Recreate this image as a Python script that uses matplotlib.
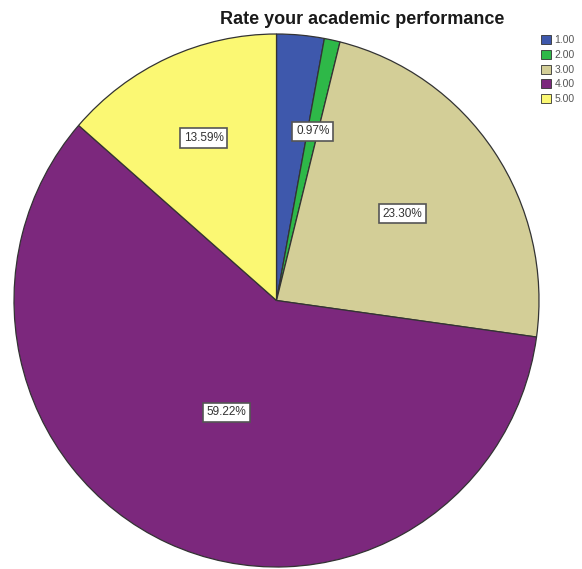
import numpy as np
import matplotlib
matplotlib.use("Agg")
from matplotlib import pyplot as plt
from matplotlib.patches import Patch

plt.rcParams['font.family'] = ['Liberation Sans', 'DejaVu Sans']

# response shares (percent), 1.00 = lowest rating
categories = ['1.00', '2.00', '3.00', '4.00', '5.00']
shares = [2.92, 0.97, 23.30, 59.22, 13.59]
colors = ['#3E58AC', '#2EB848', '#D3CE97', '#7C287D', '#FBF873']

# which slices get a percent box and how far out (fraction of radius)
show_label = [False, True, True, True, True]
label_dist = [0.6, 0.65, 0.58, 0.46, 0.67]

fig = plt.figure(figsize=(5.82, 5.69), dpi=100)
# pie is drawn a touch taller than wide
ax = fig.add_axes([14 / 582, 2 / 569, 525 / 582, 533 / 569])

wedges, _ = ax.pie(shares, colors=colors, startangle=90, counterclock=False,
                   radius=1.0, wedgeprops=dict(edgecolor='#333333', linewidth=0.9))
ax.set_xlim(-1, 1)
ax.set_ylim(-1, 1)
ax.set_aspect('auto')
ax.axis('off')

for w, val, show, d in zip(wedges, shares, show_label, label_dist):
    if not show:
        continue
    mid = np.deg2rad((w.theta1 + w.theta2) / 2)
    ax.text(d * np.cos(mid), d * np.sin(mid), f'{val:.2f}%',
            ha='center', va='center', fontsize=8.5, color='#333333',
            bbox=dict(boxstyle='square,pad=0.3', facecolor='white',
                      edgecolor='#555555', linewidth=1.2))

fig.text(362 / 582, 1 - 19 / 569, 'Rate your academic performance',
         ha='center', va='center', fontsize=13, fontweight='bold', color='#1a1a1a')

handles = [Patch(facecolor=c, edgecolor='#333333', linewidth=0.6) for c in colors]
leg = fig.legend(handles, categories, loc='upper left', bbox_to_anchor=(541 / 582, 1 - 35 / 569),
                 frameon=False, fontsize=7.5, handlelength=0.95, handleheight=0.95,
                 handletextpad=0.35, labelspacing=0.45, borderpad=0, borderaxespad=0)
for t in leg.get_texts():
    t.set_color('#555555')

fig.savefig('out.png', dpi=100)
